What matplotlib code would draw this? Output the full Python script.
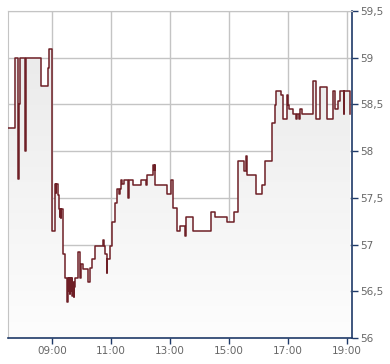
import numpy as np
import matplotlib.pyplot as plt
from matplotlib.colors import LinearSegmentedColormap

# step series: time of change -> price
times = ["07:30", "07:45", "07:50", "07:51", "07:52", "07:54", "08:05", "08:06",
         "08:37", "08:52", "08:54", "09:00", "09:06", "09:07", "09:08", "09:11",
         "09:14", "09:15", "09:16", "09:17", "09:18", "09:22", "09:26", "09:31",
         "09:32", "09:34", "09:35", "09:36", "09:37", "09:38", "09:40", "09:41",
         "09:42", "09:44", "09:45", "09:46", "09:52", "09:56", "09:58", "10:03",
         "10:07", "10:13", "10:17", "10:21", "10:27", "10:43", "10:45", "10:47",
         "10:51", "10:52", "10:57", "11:01", "11:02", "11:08", "11:11", "11:16",
         "11:17", "11:19", "11:22", "11:26", "11:35", "11:36", "11:44", "12:00",
         "12:11", "12:12", "12:26", "12:28", "12:29", "12:30", "12:54", "13:01",
         "13:06", "13:13", "13:20", "13:31", "13:32", "13:47", "14:23", "14:32",
         "14:56", "15:10", "15:18", "15:31", "15:34", "15:37", "15:54", "16:07",
         "16:14", "16:28", "16:34", "16:36", "16:45", "16:49", "16:57", "16:58",
         "16:59", "17:01", "17:10", "17:16", "17:19", "17:22", "17:25", "17:29",
         "17:50", "17:57", "18:05", "18:19", "18:32", "18:36", "18:42", "18:46",
         "18:53", "18:54", "19:06", "19:07"]
prices = [58.25, 59.0, 58.5, 57.7, 58.5, 59.0, 58.0, 59.0,
          58.7, 58.89, 59.09, 57.15, 57.65, 57.55, 57.65, 57.53,
          57.38, 57.3, 57.38, 57.28, 57.38, 56.9, 56.64, 56.39,
          56.64, 56.5, 56.64, 56.47, 56.64, 56.5, 56.64, 56.45,
          56.6, 56.44, 56.55, 56.64, 56.92, 56.64, 56.79, 56.74,
          56.74, 56.6, 56.75, 56.85, 56.99, 57.05, 56.99, 56.9,
          56.7, 56.85, 56.99, 57.19, 57.24, 57.45, 57.6, 57.54,
          57.6, 57.69, 57.65, 57.69, 57.5, 57.69, 57.64, 57.69,
          57.64, 57.74, 57.85, 57.8, 57.85, 57.64, 57.54, 57.69,
          57.39, 57.14, 57.2, 57.09, 57.29, 57.14, 57.35, 57.29,
          57.24, 57.35, 57.89, 57.79, 57.95, 57.74, 57.54, 57.64,
          57.89, 58.3, 58.49, 58.64, 58.6, 58.34, 58.49, 58.6,
          58.49, 58.45, 58.4, 58.34, 58.4, 58.34, 58.45, 58.4,
          58.75, 58.34, 58.69, 58.34, 58.64, 58.45, 58.54, 58.64,
          58.4, 58.64, 58.4, 58.4]

xticks = [9, 11, 13, 15, 17, 19]
xticklabels = ["09:00", "11:00", "13:00", "15:00", "17:00", "19:00"]
yticks = [56, 56.5, 57, 57.5, 58, 58.5, 59, 59.5]
yticklabels = ["56", "56,5", "57", "57,5", "58", "58,5", "59", "59,5"]

hours = np.array([int(t[:2]) + int(t[3:]) / 60 for t in times])
prices = np.array(prices)

navy = "#1f3a68"
grid = "#c4c4c4"

fig = plt.figure(figsize=(3.9, 3.64), dpi=100)
ax = fig.add_axes([8 / 390, 26 / 364, 344 / 390, 327 / 364])
ax.set_xlim(7.5, 19.17)
ax.set_ylim(56, 59.5)

# gradient area under the line
fill = ax.fill_between(hours, prices, 56, step="post", color="none", lw=0)
cmap = LinearSegmentedColormap.from_list("g", ["#fdfdfd", "#e8e8e8"])
grad = np.linspace(0, 1, 256).reshape(-1, 1)
img = ax.imshow(grad, cmap=cmap, origin="lower", aspect="auto",
                extent=[7.5, 19.17, 56, 59.5], zorder=1)
img.set_clip_path(fill.get_paths()[0], transform=ax.transData)

ax.step(hours, prices, where="post", color="#6e1f26", lw=1.1, zorder=3)

ax.set_xticks(xticks)
ax.set_xticklabels(xticklabels)
ax.set_yticks(yticks)
ax.set_yticklabels(yticklabels)
ax.yaxis.tick_right()
ax.grid(True, color=grid, lw=1)
ax.set_axisbelow(True)
ax.tick_params(axis="both", colors=navy, labelcolor="#666666", labelsize=7.5,
               length=4, width=1, pad=2)
for s in ["left", "top"]:
    ax.spines[s].set_color(grid)
for s in ["right", "bottom"]:
    ax.spines[s].set_color(navy)
    ax.spines[s].set_linewidth(1.2)

plt.savefig("out.png")
